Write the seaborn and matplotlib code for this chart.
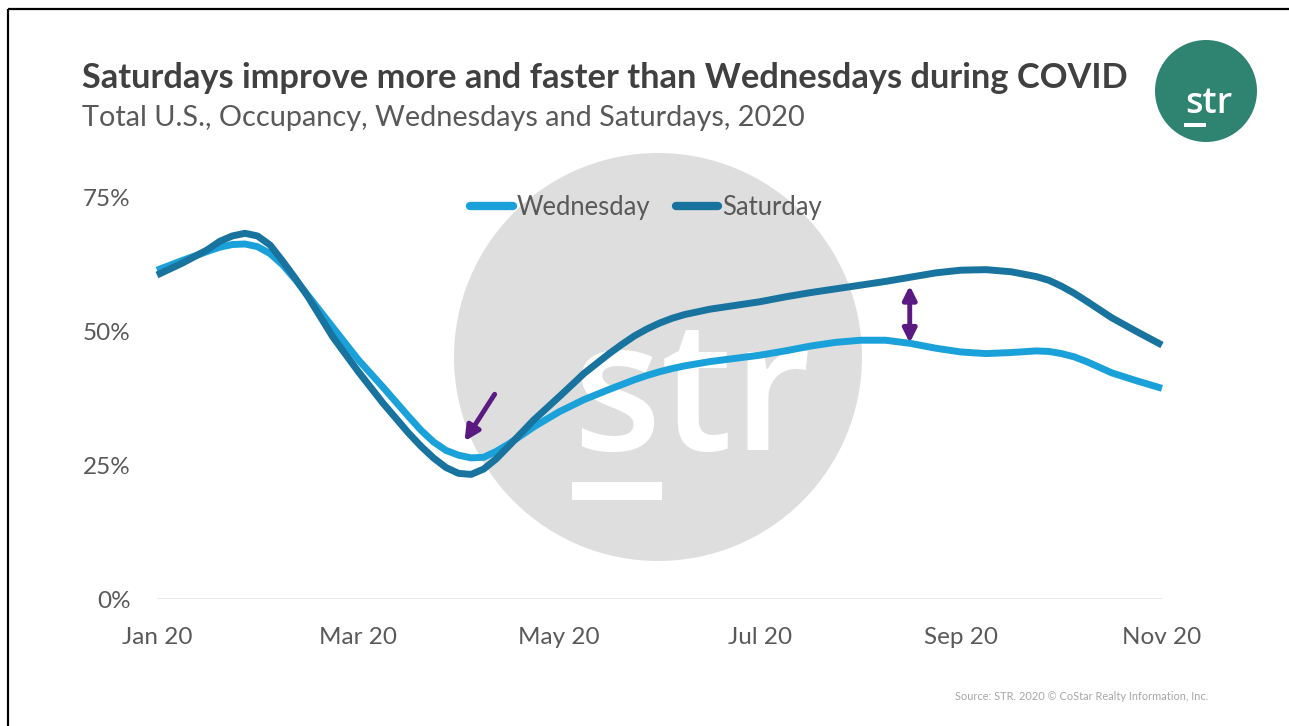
import pandas as pd
import seaborn as sns
import matplotlib.pyplot as plt
from matplotlib.patches import Circle, Rectangle
from matplotlib.lines import Line2D

# ---- data -----------------------------------------------------------------
# month offset from January 2020 (0 = Jan, 10 = Nov)
months = [0.000, 0.250, 0.500, 0.625, 0.750, 0.875, 1.000, 1.125, 1.250, 1.375,
          1.500, 1.750, 2.000, 2.250, 2.500, 2.625, 2.750, 2.875, 3.000, 3.125,
          3.250, 3.375, 3.500, 3.750, 4.000, 4.250, 4.500, 4.625, 4.750, 4.875,
          5.000, 5.125, 5.250, 5.500, 5.750, 6.000, 6.250, 6.500, 6.750, 7.000,
          7.250, 7.500, 7.750, 8.000, 8.250, 8.500, 8.750, 8.875, 9.000, 9.125,
          9.250, 9.500, 9.750, 10.000]

# occupancy, %
wednesday = [61.5, 63.3, 65.0, 65.8, 66.3, 66.4, 65.9, 64.6, 62.5, 59.8,
             56.8, 50.8, 44.8, 39.6, 34.2, 31.6, 29.4, 27.8, 26.9, 26.4,
             26.5, 27.6, 29.0, 32.2, 35.0, 37.3, 39.2, 40.1, 41.0, 41.8,
             42.5, 43.1, 43.6, 44.4, 45.0, 45.6, 46.4, 47.3, 48.0, 48.4,
             48.4, 47.8, 46.9, 46.2, 45.9, 46.1, 46.4, 46.3, 45.9, 45.3,
             44.4, 42.3, 40.8, 39.4]

saturday = [60.6, 62.8, 65.3, 66.9, 67.9, 68.4, 67.9, 66.2, 63.2, 60.0,
            56.6, 49.0, 42.6, 36.6, 31.1, 28.6, 26.4, 24.6, 23.5, 23.3,
            24.3, 26.2, 28.6, 33.5, 37.8, 42.2, 45.9, 47.6, 49.2, 50.5,
            51.6, 52.5, 53.2, 54.2, 54.9, 55.6, 56.5, 57.3, 58.0, 58.7,
            59.4, 60.2, 61.0, 61.5, 61.6, 61.2, 60.3, 59.6, 58.5, 57.2,
            55.7, 52.6, 50.0, 47.5]

series_names = ["Wednesday", "Saturday"]
x_ticks = [0, 2, 4, 6, 8, 10]
x_labels = ["Jan 20", "Mar 20", "May 20", "Jul 20", "Sep 20", "Nov 20"]
y_ticks = [0, 25, 50, 75]
y_labels = ["0%", "25%", "50%", "75%"]

title = "Saturdays improve more and faster than Wednesdays during COVID"
subtitle = "Total U.S., Occupancy, Wednesdays and Saturdays, 2020"
source = "Source: STR. 2020 \u00a9 CoStar Realty Information, Inc."

df = pd.DataFrame({
    "month": months * 2,
    "occupancy": wednesday + saturday,
    "day": [series_names[0]] * len(months) + [series_names[1]] * len(months),
})

# ---- style ----------------------------------------------------------------
sns.set_theme(style="white")
plt.rcParams["font.family"] = ["Lato", "DejaVu Sans"]

WED_C = "#1BA1DA"
SAT_C = "#18749F"
ARROW_C = "#5B1A82"
TEXT_C = "#595959"
palette = {series_names[0]: WED_C, series_names[1]: SAT_C}

W, H = 1289, 726
fig = plt.figure(figsize=(W / 100, H / 100), dpi=100)
fig.patch.set_facecolor("white")
renderer = fig.canvas.get_renderer()


def fx(x):
    return x / W


def fy(y):
    return 1 - y / H


def fitted_size(text, width_px, **kw):
    t = fig.text(0, 0, text, fontsize=20, **kw)
    w = t.get_window_extent(renderer).width
    t.remove()
    return 20 * width_px / w


def inch(x, y):
    return (x / 100, (H - y) / 100)


# watermark disc behind the plot
fig.add_artist(Circle(inch(658, 357), 2.04, transform=fig.dpi_scale_trans,
                      facecolor="#DEDEDE", edgecolor="none", zorder=-3))
wm_size = fitted_size("str", 238, family=["Open Sans", "DejaVu Sans"], weight="semibold")
fig.text(fx(572), fy(450), "str", fontsize=wm_size, color="white",
         family=["Open Sans", "DejaVu Sans"], weight="semibold",
         ha="left", va="baseline", zorder=-2)
fig.add_artist(Rectangle(inch(572, 500), 0.90, 0.18, transform=fig.dpi_scale_trans,
                         facecolor="white", edgecolor="none", zorder=-2))

# ---- axes -----------------------------------------------------------------
ax = fig.add_axes([fx(157), fy(599), (1162 - 157) / W, (599 - 198) / H])
ax.patch.set_alpha(0)
ax.axhline(0, color="#E6E6E6", lw=1.2, zorder=0)

sns.lineplot(data=df, x="month", y="occupancy", hue="day", hue_order=series_names,
             palette=palette, linewidth=5, legend=False, ax=ax, sort=False)
for ln in ax.lines[1:]:
    ln.set_solid_capstyle("butt")
    ln.set_solid_joinstyle("round")
    ln.set_clip_on(False)

ax.set_xlim(0, 10)
ax.set_ylim(0, 75)
tick_size = fitted_size("Nov 20", 79)
ax.set_xticks(x_ticks)
ax.set_xticklabels(x_labels)
ax.set_yticks(y_ticks)
ax.set_yticklabels(y_labels)
ax.tick_params(axis="both", length=0, labelsize=tick_size, labelcolor=TEXT_C)
ax.tick_params(axis="x", pad=20)
ax.tick_params(axis="y", pad=19)
ax.set_xlabel("")
ax.set_ylabel("")
for s in ax.spines.values():
    s.set_visible(False)
ax.grid(False)

# annotation arrows
ax.annotate("", xy=(3.06, 29.5), xytext=(3.36, 38.3),
            arrowprops=dict(arrowstyle="-|>", color=ARROW_C, lw=3.5,
                            mutation_scale=22, shrinkA=0, shrinkB=0))
ax.annotate("", xy=(7.49, 47.9), xytext=(7.49, 58.6),
            arrowprops=dict(arrowstyle="<|-|>", color=ARROW_C, lw=3.5,
                            mutation_scale=20, shrinkA=0, shrinkB=0))

# ---- legend ---------------------------------------------------------------
leg_size = fitted_size("Wednesday", 134)
handles = [Line2D([], [], color=palette[n], lw=6, solid_capstyle="round") for n in series_names]
leg = fig.legend(handles, series_names, loc="center", bbox_to_anchor=(fx(646), fy(207)),
                 ncol=2, frameon=False, fontsize=leg_size, handlelength=1.65,
                 handletextpad=0.15, columnspacing=1.0, borderpad=0, borderaxespad=0)
for t in leg.get_texts():
    t.set_color(TEXT_C)

# ---- titles ---------------------------------------------------------------
fig.text(fx(82), fy(88), title, fontsize=fitted_size(title, 1043, weight="bold"),
         weight="bold", color="#404040", ha="left", va="baseline")
fig.text(fx(82), fy(126), subtitle, fontsize=fitted_size(subtitle, 723),
         color=TEXT_C, ha="left", va="baseline")
fig.text(fx(1208), fy(697), source, fontsize=fitted_size(source, 253),
         color="#A6A6A6", ha="right", va="center")

# ---- logo -----------------------------------------------------------------
fig.add_artist(Circle(inch(1206, 91), 0.51, transform=fig.dpi_scale_trans,
                      facecolor="#2E8470", edgecolor="none", zorder=3))
logo_size = fitted_size("str", 47, family=["Open Sans", "DejaVu Sans"], weight="semibold")
fig.text(fx(1185), fy(113), "str", fontsize=logo_size, color="white",
         family=["Open Sans", "DejaVu Sans"], weight="semibold",
         ha="left", va="baseline", zorder=4)
fig.add_artist(Rectangle(inch(1184, 127), 0.22, 0.045, transform=fig.dpi_scale_trans,
                         facecolor="white", edgecolor="none", zorder=4))

# ---- frame ----------------------------------------------------------------
fig.add_artist(Line2D([fx(8), fx(8)], [fy(9), 0], color="black", lw=1.6,
                      transform=fig.transFigure, solid_capstyle="butt"))
fig.add_artist(Line2D([fx(8), 1], [fy(9), fy(9)], color="black", lw=1.6,
                      transform=fig.transFigure, solid_capstyle="butt"))

fig.savefig("out.png", dpi=100, facecolor="white")
